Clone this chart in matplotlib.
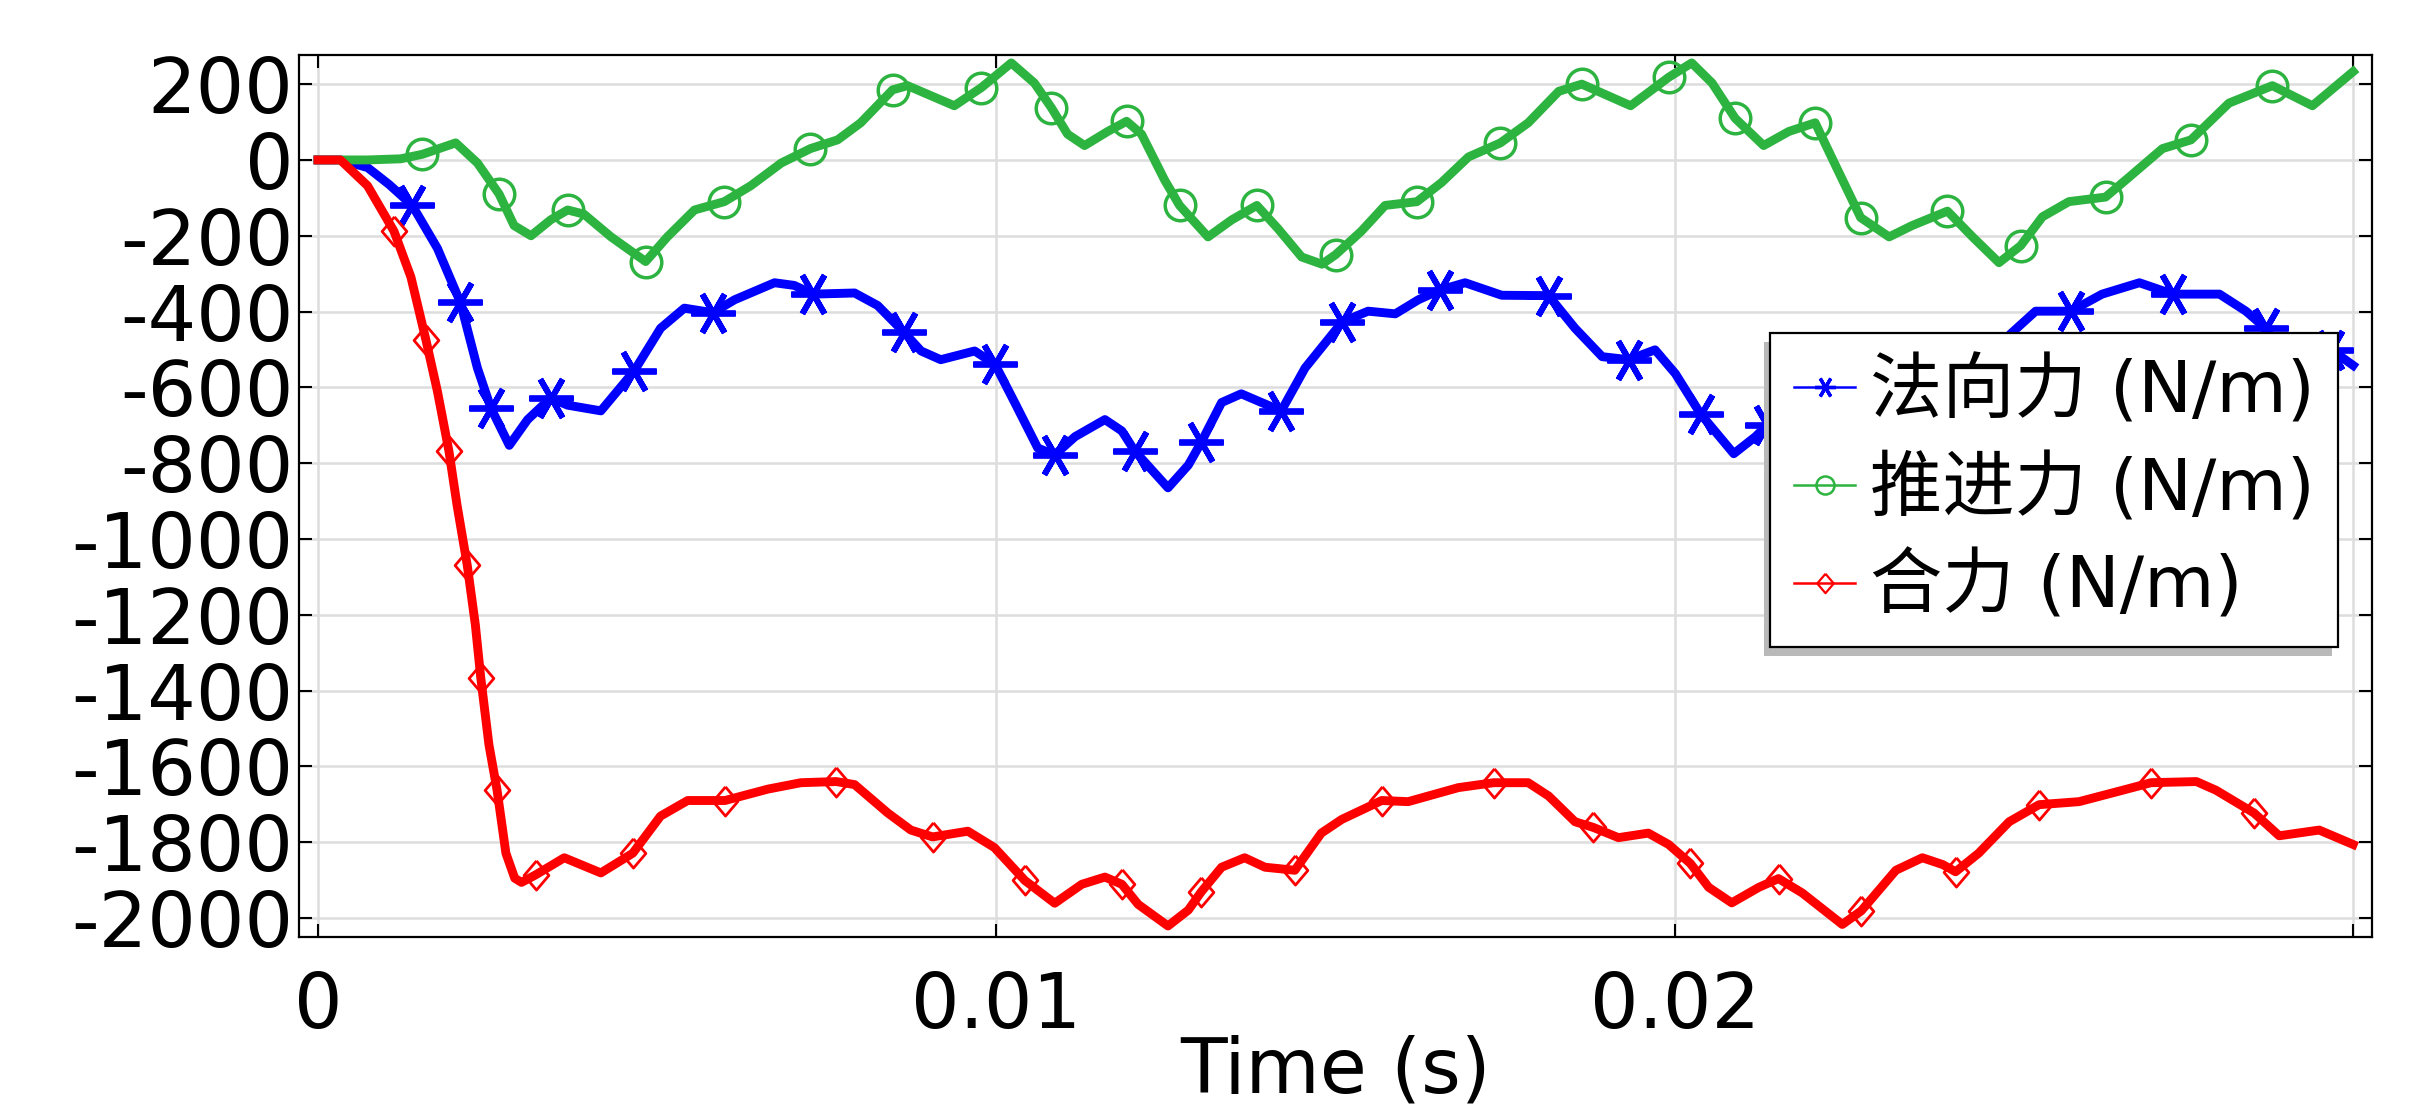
import matplotlib
matplotlib.use("Agg")
import matplotlib.pyplot as plt
from matplotlib.lines import Line2D
from matplotlib.patches import Rectangle
import numpy as np

plt.rcParams['font.family'] = ['DejaVu Sans', 'Noto Sans CJK SC']
plt.rcParams['axes.unicode_minus'] = False

# time in ms, force in N/m
normal_t = [0, 0.33, 0.73, 1.05, 1.39, 1.76, 2.10, 2.35, 2.55, 2.82, 3.09, 3.43, 3.68, 4.17, 4.66,
            5.05, 5.40, 5.82, 6.14, 6.73, 7.02, 7.30, 7.91, 8.25, 8.64, 8.89, 9.18, 9.68, 9.98,
            10.27, 10.61, 10.86, 11.16, 11.60, 11.85, 12.04, 12.53, 12.83, 13.02, 13.32, 13.61,
            13.91, 14.20, 14.55, 15.10, 15.48, 15.88, 16.22, 16.54, 16.91, 17.45, 18.14, 18.53,
            18.93, 19.32, 19.71, 20.01, 20.38, 20.87, 21.19, 21.36, 21.60, 21.85, 22.04, 22.53,
            22.83, 23.02, 23.32, 23.61, 23.91, 24.20, 24.55, 24.95, 25.32, 25.84, 26.30, 26.85,
            27.34, 28.03, 28.42, 28.71, 29.00, 29.32, 29.68, 30.00]
normal_f = [0, 0, -20, -65, -120, -233, -376, -549, -655, -753, -685, -628, -647, -662, -557,
            -444, -391, -403, -369, -324, -331, -354, -351, -384, -455, -504, -527, -504, -539,
            -640, -760, -778, -730, -685, -715, -768, -865, -805, -745, -640, -617,
            -640, -662, -549, -427, -399, -406, -369, -343, -324, -357, -358, -444,
            -519, -527, -501, -564, -670, -775, -730, -700, -685, -715, -768, -865,
            -805, -745, -640, -617, -640, -662, -549, -459, -399, -399, -354, -324,
            -354, -354, -399, -444, -519, -527, -501, -542]
normal_marks = [1.39, 2.10, 2.55, 3.43, 4.66, 5.82, 7.30, 8.64, 9.98, 10.86, 12.04, 13.02, 14.20,
                15.10, 16.54, 18.14, 19.32, 20.38, 21.36, 22.53, 23.61, 24.55, 25.84, 27.34,
                28.71, 29.68]

thrust_t = [0, 0.73, 1.22, 1.54, 2.03, 2.35, 2.67, 2.89, 3.14, 3.43, 3.68, 3.92, 4.32, 4.83, 5.15,
            5.55, 5.99, 6.38, 6.83, 7.26, 7.66, 8.00, 8.47, 8.69, 9.38, 9.78, 10.22, 10.56, 10.81,
            11.05, 11.30, 11.64, 11.92, 12.14, 12.48, 12.70, 13.12, 13.47, 13.84, 14.15, 14.50,
            14.80, 15.00, 15.38, 15.73, 16.20, 16.56, 16.96, 17.43, 17.84, 18.29, 18.63, 19.35,
            19.91, 20.25, 20.55, 20.89, 21.31, 21.68, 22.07, 22.31, 22.74, 23.16, 23.50, 24.02,
            24.39, 24.78, 25.10, 25.42, 25.81, 26.35, 26.70, 27.19, 27.61, 28.17, 28.81, 29.40,
            30.00]
thrust_f = [0, 0, 3, 15, 45, -8, -90, -173, -200, -158, -132, -143, -203, -268, -203,
            -132, -110, -68, -8, 30, 53, 98, 185, 196, 143, 191, 256, 203, 138,
            68, 38, 75, 102, 68, -53, -120, -203, -158, -120, -181, -256,
            -275, -250, -188, -120, -110, -60, 8, 45, 98, 181, 200, 143,
            218, 256, 203, 110, 38, 75, 98, 8, -152, -203, -173, -135,
            -203, -271, -226, -150, -110, -98, -45, 30, 53, 150, 196, 143,
            233]
thrust_marks = [1.54, 2.67, 3.68, 4.83, 5.99, 7.26, 8.47, 9.78, 10.81, 11.92, 12.70, 13.84, 15.00,
                16.20, 17.43, 18.63, 19.91, 20.89, 22.07, 22.74, 24.02, 25.10, 26.35, 27.61, 28.81]

total_t = [0, 0.33, 0.73, 1.12, 1.37, 1.59, 1.76, 1.93, 2.05, 2.20, 2.32, 2.40, 2.52, 2.64, 2.77,
           2.90, 3.00, 3.21, 3.63, 4.17, 4.64, 5.05, 5.45, 6.00, 6.63, 7.12, 7.64, 7.91, 8.40,
           8.74, 9.06, 9.58, 9.97, 10.42, 10.86, 11.26, 11.60, 11.85, 12.09, 12.53, 12.83, 13.02,
           13.32, 13.66, 13.96, 14.40, 14.79, 15.09, 15.68, 16.07, 16.81, 17.33, 17.84, 18.14,
           18.53, 18.80, 19.17, 19.61, 19.91, 20.23, 20.50, 20.84, 21.24, 21.53, 21.88, 22.47,
           22.75, 23.26, 23.65, 23.95, 24.14, 24.48, 24.93, 25.37, 25.96, 26.60, 27.02, 27.69,
           27.98, 28.54, 28.91, 29.50, 30.00]
total_f = [0, 0, -68, -188, -309, -474, -610, -768, -911, -1069, -1227, -1367, -1543, -1663, -1829,
           -1895, -1906, -1886, -1841, -1881, -1829, -1731, -1690, -1690, -1660, -1643, -1640, -1648, -1723,
           -1768, -1786, -1771, -1814, -1901, -1961, -1911, -1892, -1911, -1964, -2021, -1979, -1931,
           -1866, -1841, -1866, -1874, -1776, -1740, -1690, -1693, -1656, -1643, -1643, -1678,
           -1746, -1761, -1788, -1776, -1806, -1856, -1919, -1960, -1919, -1896, -1934, -2017,
           -1981, -1874, -1841, -1859, -1878, -1829, -1746, -1701, -1693, -1663, -1643, -1640,
           -1663, -1723, -1783, -1768, -1806]
total_marks = [1.12, 1.59, 1.93, 2.20, 2.40, 2.64, 3.21, 4.64, 6.00, 7.64, 9.06, 10.42, 11.85,
               13.02, 14.40, 15.68, 17.33, 18.80, 20.23, 21.53, 22.75, 24.14, 25.37, 27.02, 28.54]

labels = ['法向力 (N/m)', '推进力 (N/m)', '合力 (N/m)']
xticks = [0, 0.01, 0.02, 0.03]
xticklabels = ['0', '0.01', '0.02', '']
yticks = list(range(-2000, 201, 200))

blue = '#0000ff'
green = '#2db33f'
red = '#ff0000'
asterisk = (6, 2, 90)
diamond = [(0, 1), (0.85, 0), (0, -1), (-0.85, 0), (0, 1)]

fig = plt.figure(figsize=(24.23, 11.07), dpi=100)
ax = fig.add_axes([0.1234, 0.1536, 0.8556, 0.7971])


def curve(t, f, marks, **kw):
    idx = [t.index(m) for m in marks]
    ax.plot(np.array(t) / 1000, f, markevery=idx, lw=6.4, solid_joinstyle='round', **kw)


curve(normal_t, normal_f, normal_marks, color=blue, marker=asterisk, ms=32, mew=4.2)
curve(thrust_t, thrust_f, thrust_marks, color=green, marker='o', ms=22, mfc='none', mew=2.5)
curve(total_t, total_f, total_marks, color=red, marker=diamond, ms=21, mfc='none', mew=2.0)

ax.set_xlim(-0.00028, 0.03028)
ax.set_ylim(-2050, 278)
ax.set_xticks(xticks)
ax.set_xticklabels(xticklabels)
ax.set_yticks(yticks)
ax.set_yticklabels([str(v) for v in yticks])
ax.tick_params(direction='in', length=9.5, width=1.5, top=True, right=True, labelsize=55)
ax.tick_params(axis='x', pad=24)
ax.tick_params(axis='y', pad=4)
ax.grid(True, color='#dddddd', lw=1.8)
ax.set_axisbelow(True)
for s in ax.spines.values():
    s.set_linewidth(1.6)
ax.set_xlabel('Time (s)', fontsize=55, labelpad=-7)

handles = [
    Line2D([], [], color=blue, lw=1.8, marker=asterisk, ms=15, mew=2.4),
    Line2D([], [], color=green, lw=1.8, marker='o', ms=13, mfc='none', mew=1.8),
    Line2D([], [], color=red, lw=1.8, marker=diamond, ms=14, mfc='none', mew=1.6),
]
leg = ax.legend(handles, labels, loc='upper left', bbox_to_anchor=(0.7096, 0.684),
                fontsize=52, fancybox=False, edgecolor='black', framealpha=1,
                borderaxespad=0, handlelength=0.85, handletextpad=0.2, borderpad=0.33,
                labelspacing=0.38)
leg.get_frame().set_linewidth(1.6)

# drop shadow behind the legend box
fig.canvas.draw()
bb = leg.get_window_extent().transformed(fig.transFigure.inverted())
ax.add_patch(Rectangle((bb.x0 - 6 / 2423, bb.y0 - 9 / 1107), bb.width, bb.height,
                       transform=fig.transFigure, facecolor='#b9b9b9', edgecolor='none',
                       zorder=4.9, clip_on=False))

fig.savefig('out.png', dpi=100)
